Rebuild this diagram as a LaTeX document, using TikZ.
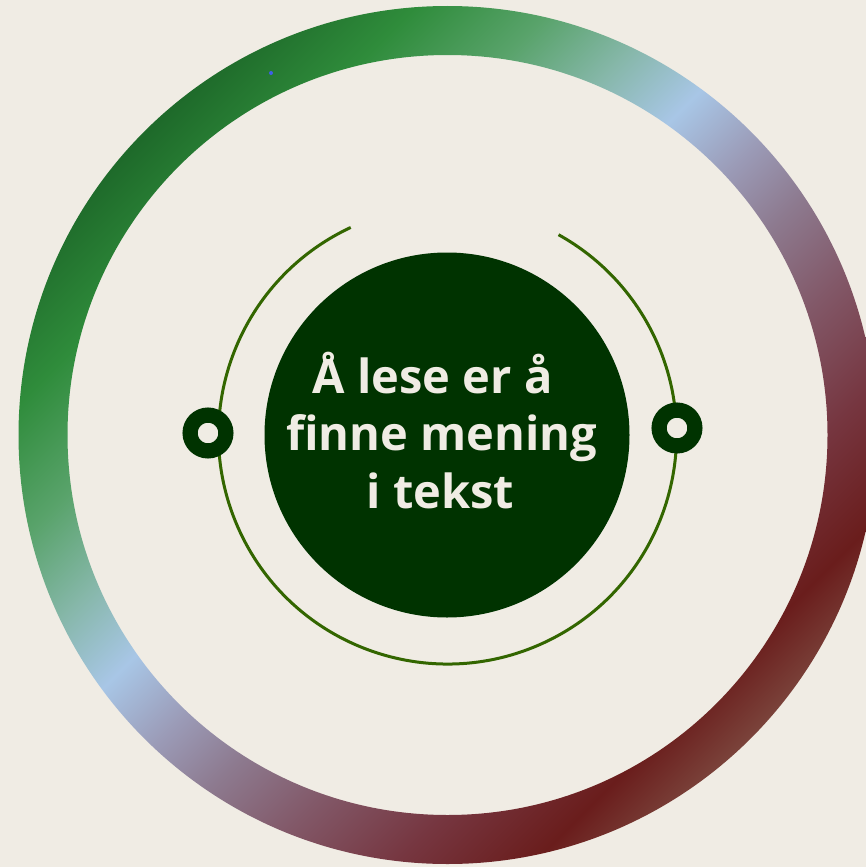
\documentclass[tikz,border=0pt]{standalone}
\usepackage{fontspec}
\setmainfont{Open Sans}[BoldFont={Open Sans Bold}]
\definecolor{bg}{HTML}{F0ECE4}
\definecolor{deep}{HTML}{003300}
\definecolor{olivearc}{HTML}{336600}
\definecolor{txt}{HTML}{F0ECE4}
\definecolor{dotblue}{HTML}{3F5FE8}
\definecolor{ga}{HTML}{1E6A2A}
\definecolor{gb}{HTML}{2F8C3B}
\definecolor{gc}{HTML}{59A36B}
\definecolor{gd}{HTML}{86B7A9}
\definecolor{ge}{HTML}{A8C6E6}
\definecolor{gf}{HTML}{9B9BB7}
\definecolor{gg}{HTML}{8D7A8F}
\definecolor{gh}{HTML}{825868}
\definecolor{gi}{HTML}{763640}
\definecolor{gj}{HTML}{6A1D1C}
\definecolor{gk}{HTML}{7A423A}
\pgfdeclarehorizontalshading{ringshade}{100bp}{color(0bp)=(ga); color(25bp)=(ga); color(30.9bp)=(gb); color(36.7bp)=(gc); color(41.6bp)=(gd); color(46.2bp)=(ge); color(50.7bp)=(gf); color(54.8bp)=(gg); color(59.8bp)=(gh); color(65.6bp)=(gi); color(71.3bp)=(gj); color(75bp)=(gk); color(100bp)=(gk)}
\tikzset{
  knob/.style={circle, draw=deep, fill=bg, line width=15.2pt, minimum size=35.8pt, inner sep=0pt},
  arcline/.style={draw=olivearc, line width=3pt},
  label/.style={text=txt, font=\fontsize{47pt}{57.5pt}\selectfont\bfseries, inner sep=0pt, anchor=base}
}
\begin{document}
\begin{tikzpicture}[x=1pt,y=-1pt]
\useasboundingbox (0,0) rectangle (866,867);
\clip (0,0) rectangle (866,867);
\fill[bg] (0,0) rectangle (866,867);
\coordinate (c) at (447.5,435);
% outer gradient ring
\shade[shading=ringshade, shading angle=-45, even odd rule] (c) circle (429pt) (c) circle (380pt);
% small blue dot
\fill[dotblue] (271,73) circle (2pt);
% inner open arc
\draw[arcline] (c) ++(115:229pt) arc[start angle=115, end angle=421, radius=229pt];
% central disc
\node[circle, fill=deep, minimum size=365pt, inner sep=0pt] (core) at (447,435) {};
% knobs
\node[knob] (kl) at (208,433) {};
\node[knob] (kr) at (677,428) {};
% text
\node[label] (l1) at (432.5,393) {Å lese er å};
\node[label] (l2) at (441.5,450) {finne mening};
\node[label] (l3) at (440.5,508) {i tekst};
\end{tikzpicture}
\end{document}
